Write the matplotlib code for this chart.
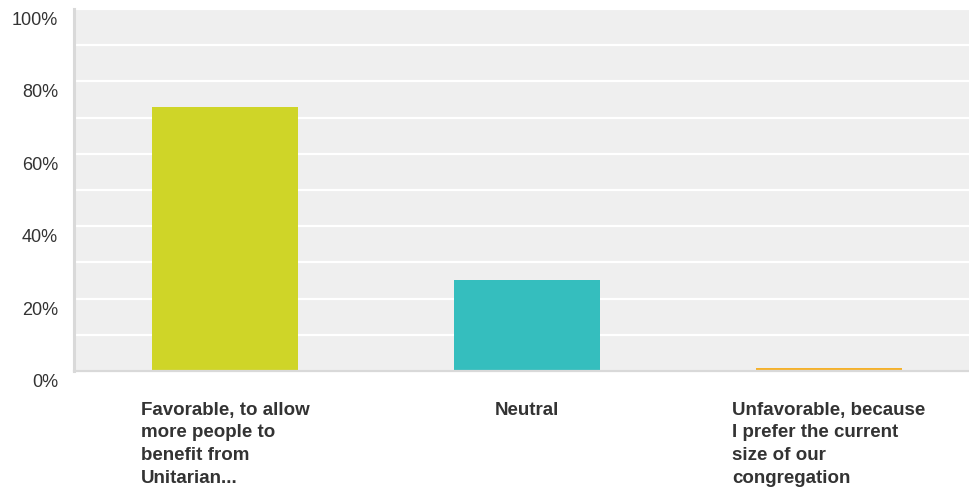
"""
Survey result bar chart: opinion on congregation growth (percent of responses).
"""

import matplotlib.pyplot as plt
from matplotlib.ticker import MultipleLocator
from matplotlib.transforms import ScaledTranslation

OUTPUT_PATH = "out.png"

CATEGORIES = [
    "Favorable, to allow\nmore people to\nbenefit from\nUnitarian...",
    "Neutral",
    "Unfavorable, because\nI prefer the current\nsize of our\ncongregation",
]
PERCENTAGES = [73.0, 25.1, 0.8]
Y_TICKS = [0, 20, 40, 60, 80, 100]
Y_TICK_LABELS = ["0%", "20%", "40%", "60%", "80%", "100%"]

BAR_COLORS = ["#cfd528", "#35bebe", "#f5b12b"]
COLOR_PLOT_BG = "#efefef"
COLOR_GRID = "#ffffff"
COLOR_AXIS = "#d9d9d9"
COLOR_INK = "#333333"


def set_font() -> None:
    plt.rcParams["font.family"] = ["Liberation Sans", "DejaVu Sans"]


def plot_bars(ax: plt.Axes) -> None:
    x = range(len(CATEGORIES))
    ax.bar(x, PERCENTAGES, width=0.485, color=BAR_COLORS, zorder=2)

    ax.set_xlim(-0.5, 2.464)
    ax.set_ylim(0, 100)
    ax.set_facecolor(COLOR_PLOT_BG)

    # grid every 10%, labels every 20%
    ax.yaxis.set_minor_locator(MultipleLocator(10))
    ax.yaxis.grid(True, which="both", color=COLOR_GRID, linewidth=1.6, zorder=0)
    ax.set_axisbelow(True)

    ax.set_yticks(Y_TICKS)
    ax.set_yticklabels(Y_TICK_LABELS, fontsize=13, color=COLOR_INK)
    ax.tick_params(axis="y", which="both", length=0, pad=11.5)
    # labels sit slightly below their gridline in the original
    shift = ScaledTranslation(0, -0.095, ax.figure.dpi_scale_trans)
    for label in ax.get_yticklabels():
        label.set_transform(label.get_transform() + shift)

    ax.set_xticks(list(x))
    ax.set_xticklabels(CATEGORIES, fontsize=13.5, fontweight="bold", color=COLOR_INK)
    ax.tick_params(axis="x", length=0, pad=22)
    for label in ax.get_xticklabels():
        label.set_multialignment("left")
        label.set_linespacing(1.44)
        label.set_verticalalignment("top")

    for spine in ("top", "right"):
        ax.spines[spine].set_visible(False)
    ax.spines["left"].set_color(COLOR_AXIS)
    ax.spines["left"].set_linewidth(2.2)
    ax.spines["bottom"].set_color(COLOR_AXIS)
    ax.spines["bottom"].set_linewidth(1.6)


def main() -> None:
    set_font()
    fig = plt.figure(figsize=(9.69, 4.96), dpi=100, facecolor="white")
    ax = fig.add_axes([0.0764, 0.252, 0.9236, 0.730])
    plot_bars(ax)
    fig.savefig(OUTPUT_PATH, dpi=100, facecolor="white")


if __name__ == "__main__":
    main()
